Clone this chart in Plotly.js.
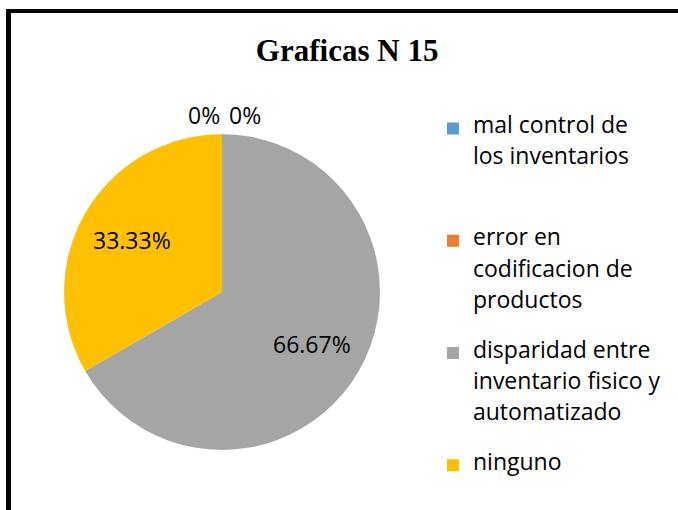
<!DOCTYPE html>
<html>
<head>
<meta charset="utf-8">
<script src="https://cdn.plot.ly/plotly-3.0.1.min.js"></script>
<style>
html,body{margin:0;padding:0;background:#fff;overflow:hidden;}
#frame{position:absolute;left:6px;top:9px;width:700px;height:520px;border-top:4px solid #000;border-left:5px solid #000;}
#chart{position:absolute;left:0;top:0;width:678px;height:510px;}
</style>
</head>
<body>
<div id="frame"></div>
<div id="chart"></div>
<script>
// ---- data ----
const categories = [
  "mal control de\nlos inventarios",
  "error en\ncodificacion de\nproductos",
  "disparidad entre\ninventario fisico y\nautomatizado",
  "ninguno"
];
const values = [0, 0, 2, 1];
const colors = ["#5B9BD5", "#ED7D31", "#A5A5A5", "#FFC000"];
const chartTitle = "Graficas N 15";

// ---- derived ----
const W = 678, H = 510;
const total = values.reduce((a, b) => a + b, 0);
const labelsText = values.map(v => {
  const p = Math.round(v / total * 10000) / 100;
  return (p % 1 === 0 ? p.toFixed(0) : p.toFixed(2)) + "%";
});

const sans = "Open Sans, Noto Sans, sans-serif";
const textSize = 23;
const subLine = 12;           // legend base font -> half-line spacing
const linesPerItem = 7;

const legendLabels = categories.map((c, idx) => {
  const parts = c.split("\n").map(s => '<span style="font-size:' + textSize + 'px">' + s + '</span>');
  let out = parts.join("<br> <br>");
  const used = 2 * parts.length - 1;
  if (idx < categories.length - 1) {
    for (let i = used; i < linesPerItem; i++) out += "<br> ";
  }
  return out;
});

const domX = [0.0944, 0.5605], domY = [0.1176, 0.737];

const trace = {
  type: "pie",
  labels: legendLabels,
  values: values,
  text: labelsText,
  textinfo: "none",
  hoverinfo: "text",
  sort: false,
  direction: "clockwise",
  rotation: 0,
  marker: {colors: colors, line: {color: "#ffffff", width: 0}},
  domain: {x: domX, y: domY},
  automargin: false
};

// label positions derived from the slice angles
const cx = (domX[0] + domX[1]) / 2 * W;
const cy = (1 - (domY[0] + domY[1]) / 2) * H;
const r = Math.min((domX[1] - domX[0]) * W, (domY[1] - domY[0]) * H) / 2;
const annotations = [];
let cum = 0, zeroCount = 0;
values.forEach((v, i) => {
  const a = (cum + v / 2) / total * 2 * Math.PI;
  cum += v;
  const k = v === 0 ? 1.12 : 0.66;
  const px = cx + k * r * Math.sin(a);
  const py = cy - k * r * Math.cos(a);
  let xanchor = "center", xshift = 0;
  if (v === 0) {
    if (zeroCount % 2 === 0) { xanchor = "right"; xshift = 0; }
    else { xanchor = "left"; xshift = 5; }
    zeroCount++;
  }
  annotations.push({
    xref: "paper", yref: "paper",
    x: px / W, y: 1 - py / H,
    xanchor: xanchor, yanchor: "middle", xshift: xshift,
    text: labelsText[i], showarrow: false,
    font: {family: sans, size: textSize, color: "#000"}
  });
});

const layout = {
  width: W,
  height: H,
  margin: {l: 0, r: 0, t: 0, b: 0},
  paper_bgcolor: "rgba(0,0,0,0)",
  plot_bgcolor: "rgba(0,0,0,0)",
  title: {
    text: "<b>" + chartTitle + "</b>",
    font: {family: "Liberation Serif, Times New Roman, serif", size: 31, color: "#000"},
    x: 0.512, xanchor: "center",
    y: 0.902, yanchor: "middle"
  },
  showlegend: true,
  legend: {
    x: 0.6386, xanchor: "left",
    y: 0.776, yanchor: "top",
    valign: "top",
    font: {family: sans, size: subLine, color: "#000"},
    itemwidth: 30,
    tracegroupgap: 0
  },
  annotations: annotations
};

Plotly.newPlot("chart", [trace], layout, {displayModeBar: false, staticPlot: true});
</script>
</body>
</html>
